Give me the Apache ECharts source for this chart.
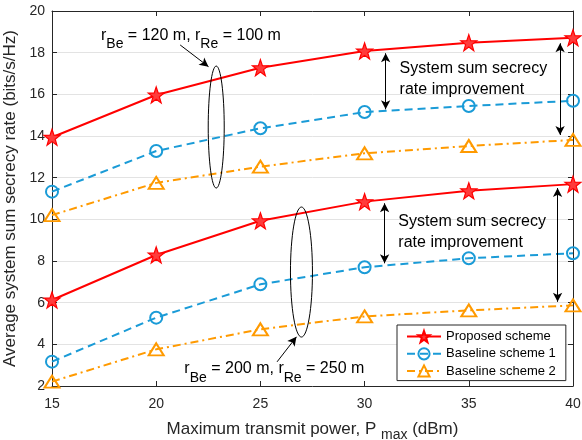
<!DOCTYPE html>
<html>
<head>
<meta charset="utf-8">
<script src="https://cdn.jsdelivr.net/npm/echarts@6/dist/echarts.min.js"></script>
<style>html,body{margin:0;padding:0;background:#fff;}#c{width:582px;height:440px;}</style>
</head>
<body>
<div id="c"></div>
<script>
// ---- data ----
const xValues = [15, 20, 25, 30, 35, 40];
const proposedUpper = [13.94, 15.97, 17.28, 18.08, 18.48, 18.72];
const baseline1Upper = [11.33, 13.28, 14.37, 15.15, 15.44, 15.69];
const baseline2Upper = [10.20, 11.75, 12.53, 13.17, 13.52, 13.81];
const proposedLower = [6.13, 8.29, 9.93, 10.85, 11.37, 11.69];
const baseline1Lower = [3.17, 5.28, 6.88, 7.70, 8.13, 8.37];
const baseline2Lower = [2.21, 3.76, 4.72, 5.34, 5.63, 5.87];
const seriesNames = ['Proposed scheme', 'Baseline scheme 1', 'Baseline scheme 2'];
const xTicks = [15, 20, 25, 30, 35, 40];
const yTicks = [2, 4, 6, 8, 10, 12, 14, 16, 18, 20];

const FONT = 'Liberation Sans, Arial, Helvetica, sans-serif';
const RED = '#ff0000', BLUE = '#1a9bd7', ORANGE = '#ff9a00', AX = '#262626';
const STAR = 'path://M0,-10L2.35,-3.24L9.51,-3.09L3.8,1.24L5.88,8.09L0,4L-5.88,8.09L-3.8,1.24L-9.51,-3.09L-2.35,-3.24Z';

function pairs(vals) { return xValues.map((x, i) => [x, vals[i]]); }

function mkSeries(idx, vals, withMark) {
  const base = {
    type: 'line', name: seriesNames[idx], data: pairs(vals), xAxisIndex: 0, yAxisIndex: 0,
    animation: false, z: 3
  };
  if (idx === 0) {
    Object.assign(base, {
      symbol: STAR, symbolSize: 16,
      lineStyle: { color: RED, width: 2, type: 'solid' },
      itemStyle: { color: '#ff3b3b', borderColor: RED, borderWidth: 1.2 }
    });
  } else if (idx === 1) {
    Object.assign(base, {
      symbol: 'circle', symbolSize: 12,
      lineStyle: { color: BLUE, width: 2, type: [8, 5] },
      itemStyle: { color: 'rgba(255,255,255,0)', borderColor: BLUE, borderWidth: 2 }
    });
  } else {
    Object.assign(base, {
      symbol: 'triangle', symbolSize: [15, 12],
      lineStyle: { color: ORANGE, width: 2, type: [8, 4, 2, 4] },
      itemStyle: { color: 'rgba(255,255,255,0)', borderColor: ORANGE, borderWidth: 2 }
    });
  }
  if (withMark) {
    const arrow = (a, b, both) => [
      { coord: a, symbol: both ? 'arrow' : 'none' },
      { coord: b, symbol: 'arrow' }
    ];
    base.markLine = {
      silent: true, animation: false, symbolSize: [7, 9],
      lineStyle: { color: '#000', width: 1, type: 'solid' },
      label: { show: false },
      data: [
        arrow([21.15, 18.37], [22.51, 17.33], false),
        arrow([25.80, 3.16], [26.73, 4.36], false),
        arrow([31.01, 17.97], [31.01, 15.28], true),
        arrow([39.38, 18.45], [39.38, 14.05], true),
        arrow([30.96, 10.77], [30.96, 7.89], true),
        arrow([39.26, 11.50], [39.26, 6.04], true)
      ]
    };
  }
  return base;
}

const chart = echarts.init(document.getElementById('c'), null, { renderer: 'canvas' });
const axisCommon = {
  type: 'value', axisLine: { show: true, lineStyle: { color: AX, width: 1 } },
  axisTick: { show: true, inside: true, length: 5, lineStyle: { color: AX } },
  splitLine: { show: false }
};
// subscript via top padding (text lowered inside a taller token)
const subRich = (size, subSize, fill, pad) => ({
  a: { fontSize: size, lineHeight: 18, color: fill, fill: fill, fontFamily: FONT, padding: [0, 0, 0, 0] },
  s: { fontSize: subSize, lineHeight: 16, color: fill, fill: fill, fontFamily: FONT, padding: [pad, 0, 0, 0] }
});
chart.setOption({
  animation: false,
  backgroundColor: '#fff',
  textStyle: { fontFamily: FONT },
  grid: { left: 52, right: 9, top: 11, bottom: 54, containLabel: false, outerBoundsMode: 'none' },
  legend: {
    data: seriesNames, orient: 'vertical', left: 397, top: 325,
    itemWidth: 34, itemHeight: 14, itemGap: 4,
    padding: [5, 10, 3, 9], borderColor: AX, borderWidth: 1, backgroundColor: '#fff',
    textStyle: { fontSize: 13, color: '#000', fontFamily: FONT }
  },
  xAxis: [
    Object.assign({}, axisCommon, {
      position: 'bottom', min: 15, max: 40, interval: 5,
      axisLabel: { fontSize: 14, color: AX, margin: 11, fontFamily: FONT },
      name: '{a|Maximum transmit power, P }{s|max}{a| (dBm)}',
      nameLocation: 'middle', nameGap: 26,
      nameTextStyle: { fontFamily: FONT, color: AX, rich: subRich(17, 14, AX, 12) }
    }),
    Object.assign({}, axisCommon, {
      position: 'top', min: 15, max: 40, interval: 5, axisLabel: { show: false }
    })
  ],
  yAxis: [
    Object.assign({}, axisCommon, {
      position: 'left', min: 2, max: 20, interval: 2,
      axisLabel: { fontSize: 14, color: AX, margin: 7, fontFamily: FONT },
      splitLine: { show: true, lineStyle: { color: '#e3e3e3', width: 1 } },
      name: 'Average system sum secrecy rate (bits/s/Hz)',
      nameLocation: 'middle', nameGap: 30,
      nameTextStyle: { fontSize: 17, color: AX, fontFamily: FONT }
    }),
    Object.assign({}, axisCommon, {
      position: 'right', min: 2, max: 20, interval: 2, axisLabel: { show: false }
    })
  ],
  series: [
    mkSeries(0, proposedUpper, true),
    mkSeries(1, baseline1Upper, false),
    mkSeries(2, baseline2Upper, false),
    mkSeries(0, proposedLower, false),
    mkSeries(1, baseline1Lower, false),
    mkSeries(2, baseline2Lower, false)
  ]
});

// ---- annotations (anchored in data coordinates) ----
const px = (p) => chart.convertToPixel({ gridIndex: 0 }, p);
const e1 = px([22.88, 14.43]), e2 = px([26.97, 7.47]);
const t1 = px([17.35, 19.27]), t2 = px([21.35, 3.26]);
const i1 = px([31.68, 16.75]), i2 = px([31.62, 9.40]);
const graphics = [
  { type: 'ellipse', shape: { cx: e1[0], cy: e1[1], rx: 8, ry: 61 }, style: { fill: 'none', stroke: '#000', lineWidth: 1 }, z: 10 },
  { type: 'ellipse', shape: { cx: e2[0], cy: e2[1], rx: 11, ry: 65 }, style: { fill: 'none', stroke: '#000', lineWidth: 1 }, z: 10 },
  { type: 'text', x: t1[0], y: t1[1], z: 10, style: { text: '{a|r}{s|Be}{a| = 120 m, r}{s|Re}{a| = 100 m}', rich: subRich(16, 14, '#000', 18), align: 'left', verticalAlign: 'top', fill: '#000' } },
  { type: 'text', x: t2[0], y: t2[1], z: 10, style: { text: '{a|r}{s|Be}{a| = 200 m, r}{s|Re}{a| = 250 m}', rich: subRich(16, 14, '#000', 18), align: 'left', verticalAlign: 'top', fill: '#000' } },
  { type: 'text', x: i1[0], y: i1[1], z: 10, style: { text: 'System sum secrecy\nrate improvement', font: '16px ' + FONT, lineHeight: 21, align: 'left', verticalAlign: 'middle', fill: '#000' } },
  { type: 'text', x: i2[0], y: i2[1], z: 10, style: { text: 'System sum secrecy\nrate improvement', font: '16px ' + FONT, lineHeight: 21, align: 'left', verticalAlign: 'middle', fill: '#000' } }
];
chart.setOption({ graphic: graphics });
</script>
</body>
</html>
